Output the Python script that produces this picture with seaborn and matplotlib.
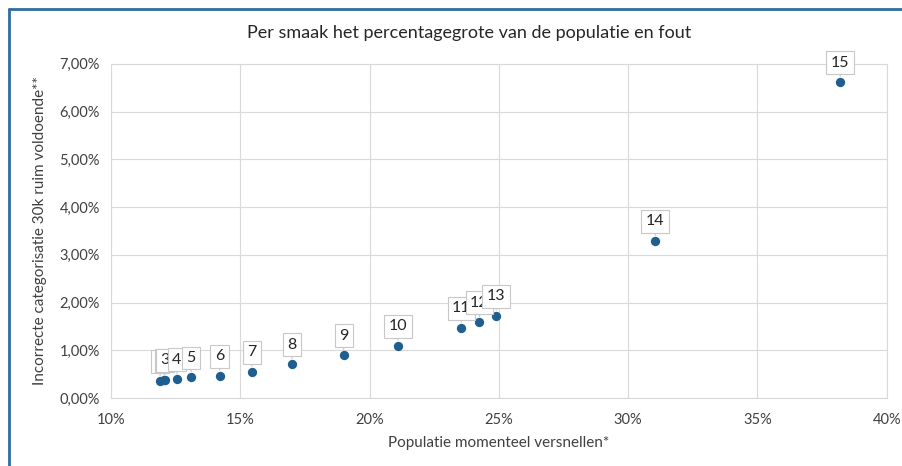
import matplotlib.pyplot as plt
import matplotlib.ticker as mtick
from matplotlib.lines import Line2D
import pandas as pd
import seaborn as sns

# waarden
labels = [1, 2, 3, 4, 5, 6, 7, 8, 9, 10, 11, 12, 13, 14, 15]
populatie = [0.119, 0.1205, 0.121, 0.1255, 0.131, 0.142, 0.1545, 0.170, 0.190, 0.211,
             0.2355, 0.2425, 0.249, 0.3105, 0.382]
fout = [0.0035, 0.0037, 0.0038, 0.0039, 0.0043, 0.0047, 0.0055, 0.0071, 0.0090, 0.0109,
        0.0147, 0.0159, 0.0172, 0.0329, 0.0662]

df = pd.DataFrame({"label": labels, "populatie": populatie, "fout": fout})

sns.set_style("white")
plt.rcParams['font.family'] = ['Lato', 'DejaVu Sans']

fig = plt.figure(figsize=(9.02, 4.66), dpi=100)
ax = fig.add_axes([0.123, 0.146, 0.860, 0.717])

sns.scatterplot(data=df, x="populatie", y="fout", ax=ax, color="#1f5f8f",
                s=45, edgecolor="#1f5f8f", linewidth=0, zorder=3)

for lab, x, y in zip(df["label"], df["populatie"], df["fout"]):
    ax.annotate(str(lab), (x, y), xytext=(0, 14), textcoords="offset points",
                ha="center", va="center", fontsize=11.5, color="#262626", zorder=4,
                bbox=dict(boxstyle="square,pad=0.28", fc="white", ec="#c8c8c8", lw=0.8),
                arrowprops=dict(arrowstyle="-", color="#c8c8c8", lw=0.8, shrinkA=0, shrinkB=4))

ax.set_xlim(0.10, 0.40)
ax.set_ylim(0, 0.07)
ax.set_xticks([0.10, 0.15, 0.20, 0.25, 0.30, 0.35, 0.40])
ax.set_yticks([0.0, 0.01, 0.02, 0.03, 0.04, 0.05, 0.06, 0.07])
ax.xaxis.set_major_formatter(mtick.FuncFormatter(lambda v, p: f"{v*100:.0f}%"))
ax.yaxis.set_major_formatter(mtick.FuncFormatter(lambda v, p: f"{v*100:.2f}%".replace(".", ",")))
ax.tick_params(axis="both", labelsize=10.5, colors="#404040", length=0)
ax.tick_params(axis="x", pad=11)
ax.tick_params(axis="y", pad=8)
ax.grid(True, color="#d9d9d9", lw=0.8)
ax.set_axisbelow(True)
for sp in ax.spines.values():
    sp.set_color("#d9d9d9")
    sp.set_linewidth(0.8)

ax.set_xlabel("Populatie momenteel versnellen*", fontsize=11, color="#404040", labelpad=6)
ax.set_ylabel("Incorrecte categorisatie 30k ruim voldoende**", fontsize=11, color="#404040", labelpad=9)
fig.text(0.52, 0.93, "Per smaak het percentagegrote van de populatie en fout",
         ha="center", va="center", fontsize=13, color="#262626")

# blauwe kader links en boven
fig.add_artist(Line2D([0.0095, 0.0095], [0, 0.98], transform=fig.transFigure, color="#2e6da4", lw=2))
fig.add_artist(Line2D([0.0095, 1.0], [0.98, 0.98], transform=fig.transFigure, color="#2e6da4", lw=2))

fig.savefig("out.png", dpi=100)
